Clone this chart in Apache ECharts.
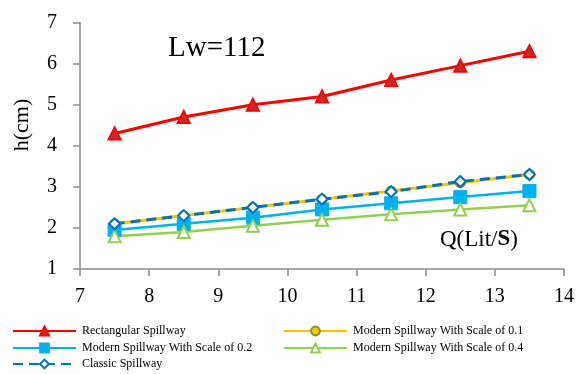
<!DOCTYPE html>
<html><head><meta charset="utf-8">
<script src="https://cdn.jsdelivr.net/npm/echarts@6/dist/echarts.min.js"></script>
<style>html,body{margin:0;padding:0;background:#fff}#c{width:581px;height:374px}</style>
</head><body><div id="c"></div>
<script>
var xValues = [7.5, 8.5, 9.5, 10.5, 11.5, 12.5, 13.5];
var rectangular = [4.3, 4.7, 5.0, 5.2, 5.6, 5.95, 6.3];
var modern01 = [2.1, 2.3, 2.5, 2.7, 2.9, 3.1, 3.3];
var modern02 = [1.95, 2.1, 2.25, 2.45, 2.6, 2.75, 2.9];
var modern04 = [1.8, 1.9, 2.05, 2.2, 2.33, 2.45, 2.55];
var classic = [2.1, 2.3, 2.5, 2.7, 2.88, 3.13, 3.3];
var names = ['Rectangular Spillway', 'Modern Spillway With Scale of 0.1', 'Modern Spillway With Scale of 0.2', 'Modern Spillway With Scale of 0.4', 'Classic Spillway'];

function pts(arr){ return xValues.map(function(x,i){return [x, arr[i]];}); }
var font = '"Liberation Serif", "Times New Roman", serif';
var chart = echarts.init(document.getElementById('c'));
var axisColor = '#8c8c8c';
function leg(name, left, top){
  return {orient: 'horizontal', left: left, top: top, itemGap: 5, itemWidth: 63, itemHeight: 11,
    textStyle: {fontSize: 12, fontFamily: font, color: '#000', padding: [0,0,0,1]}, padding: 0,
    data: [name]};
}
chart.setOption({
  animation: false,
  textStyle: {fontFamily: font},
  grid: {left: 80, right: 17, top: 22.5, bottom: 105},
  xAxis: {type: 'value', min: 7, max: 14, interval: 1,
    axisLine: {show: true, onZero: false, lineStyle: {color: axisColor, width: 1.5}},
    axisTick: {show: true, length: 7, lineStyle: {color: axisColor, width: 1.5}},
    splitLine: {show: false},
    axisLabel: {color: '#000', fontSize: 20, fontFamily: font, margin: 18}},
  yAxis: {type: 'value', min: 1, max: 7, interval: 1,
    axisLine: {show: true, onZero: false, lineStyle: {color: axisColor, width: 1.5}},
    axisTick: {show: true, length: 7, lineStyle: {color: axisColor, width: 1.5}},
    splitLine: {show: false},
    axisLabel: {color: '#000', fontSize: 20, fontFamily: font, margin: 23}},
  graphic: [
    {type: 'text', left: 168, top: 34, style: {text: 'Lw=112', font: '29px ' + font, fill: '#000'}},
    {type: 'text', left: 440, top: 228, style: {rich: {a: {fontSize: 23, fontFamily: font}, b: {fontSize: 23, fontFamily: font, fontWeight: 'bold'}}, text: '{a|Q(Lit/}{b|S}{a|)}', fill: '#000'}},
    {type: 'text', x: 22, y: 125, rotation: Math.PI/2, style: {text: 'h(cm)', font: '22px ' + font, fill: '#000', align: 'center', verticalAlign: 'middle'}}
  ],
  legend: [
    leg(names[0], 12, 325), leg(names[2], 12, 342), leg(names[4], 12, 358),
    leg(names[1], 283, 325), leg(names[3], 283, 342)
  ],
  series: [
    {name: names[0], type: 'line', data: pts(rectangular), symbol: 'triangle', symbolSize: 12,
     lineStyle: {color: '#FF0000', width: 3}, itemStyle: {color: '#B83232', borderColor: '#FF0000', borderWidth: 2}, z: 3},
    {name: names[1], type: 'line', data: pts(modern01), symbol: 'circle', symbolSize: 9,
     lineStyle: {color: '#FFC000', width: 3}, itemStyle: {color: '#FFC000', borderColor: '#77933C', borderWidth: 2}, z: 2},
    {name: names[2], type: 'line', data: pts(modern02), symbol: 'rect', symbolSize: 13,
     lineStyle: {color: '#00B0F0', width: 2.5}, itemStyle: {color: '#00B0F0', borderColor: '#00B0F0', borderWidth: 1}, z: 2},
    {name: names[3], type: 'line', data: pts(modern04), symbol: 'triangle', symbolSize: 12,
     lineStyle: {color: '#92D050', width: 2.5}, itemStyle: {color: '#ffffff', borderColor: '#92D050', borderWidth: 2}, z: 2},
    {name: names[4], type: 'line', data: pts(classic), symbol: 'diamond', symbolSize: 11,
     lineStyle: {color: '#0070C0', width: 3, type: [10, 6]}, itemStyle: {color: '#ffffff', borderColor: '#0070C0', borderWidth: 2}, z: 4}
  ]
});
</script></body></html>
